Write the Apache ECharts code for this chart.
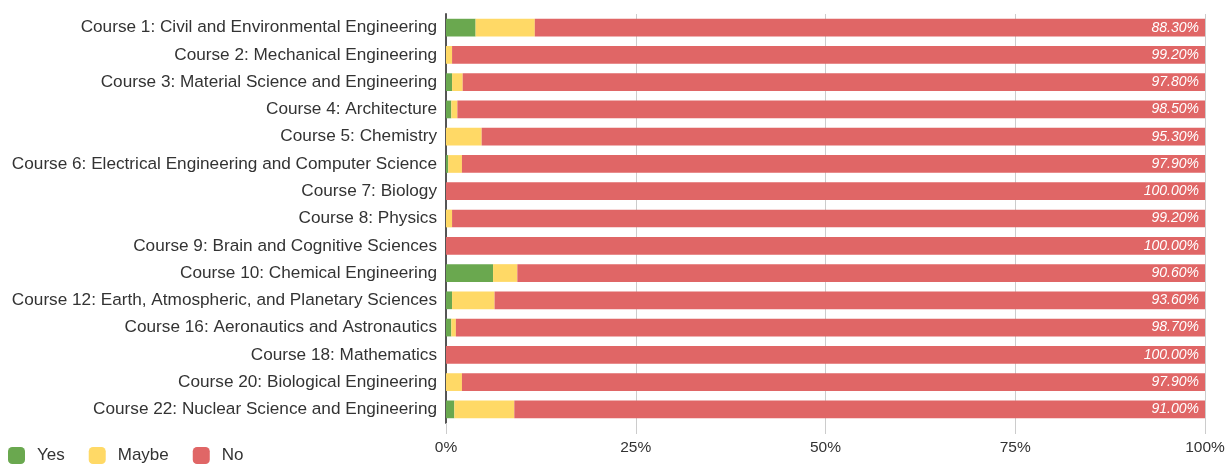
<!DOCTYPE html>
<html><head><meta charset="utf-8">
<script src="https://cdn.jsdelivr.net/npm/echarts@6/dist/echarts.min.js"></script>
<style>html,body{margin:0;padding:0;background:#fff}#c{width:1228px;height:465px}</style>
</head><body><div id="c"></div>
<script>
const categories = [
  "Course 1: Civil and Environmental Engineering",
  "Course 2: Mechanical Engineering",
  "Course 3: Material Science and Engineering",
  "Course 4: Architecture",
  "Course 5: Chemistry",
  "Course 6: Electrical Engineering and Computer Science",
  "Course 7: Biology",
  "Course 8: Physics",
  "Course 9: Brain and Cognitive Sciences",
  "Course 10: Chemical Engineering",
  "Course 12: Earth, Atmospheric, and Planetary Sciences",
  "Course 16: Aeronautics and Astronautics",
  "Course 18: Mathematics",
  "Course 20: Biological Engineering",
  "Course 22: Nuclear Science and Engineering"
];
const yesValues   = [3.9, 0, 0.8, 0.7, 0, 0.3, 0, 0, 0, 6.2, 0.8, 0.7, 0, 0, 1.1];
const maybeValues = [7.8, 0.8, 1.4, 0.8, 4.7, 1.8, 0, 0.8, 0, 3.2, 5.6, 0.6, 0, 2.1, 7.9];
const noValues    = [88.3, 99.2, 97.8, 98.5, 95.3, 97.9, 100, 99.2, 100, 90.6, 93.6, 98.7, 100, 97.9, 91.0];
const tickLabels  = ["0%", "25%", "50%", "75%", "100%"];

const chart = echarts.init(document.getElementById('c'), null, {renderer: 'canvas'});
const font = '"Liberation Sans", Arial, sans-serif';
function bar(name, data, color, label) {
  return {
    name, type: 'bar', stack: 'total', data, barWidth: '65%',
    itemStyle: {color, borderRadius: 0},
    label: label ? {
      show: true, position: 'insideRight', color: '#fff', fontStyle: 'italic',
      fontFamily: font, fontSize: 14, distance: 6,
      formatter: p => p.value.toFixed(2) + '%'
    } : {show: false},
    emphasis: {disabled: true}
  };
}
chart.setOption({
  animation: false,
  textStyle: {fontFamily: font},
  grid: {left: 446, right: 23, top: 14, bottom: 42, containLabel: false},
  legend: {
    left: 8, top: 447, padding: 0, itemWidth: 17, itemHeight: 17, itemGap: 24,
    icon: 'roundRect',
    textStyle: {fontSize: 17, color: '#333', fontFamily: font, padding: [0, 0, 0, 7]},
    data: ['Yes', 'Maybe', 'No']
  },
  xAxis: {
    type: 'value', min: 0, max: 100, interval: 25,
    axisLine: {show: false},
    axisTick: {show: true, length: 11, lineStyle: {color: '#ccc'}},
    splitLine: {show: true, lineStyle: {color: '#ccc'}},
    axisLabel: {fontSize: 15.5, color: '#333', margin: 17,
      formatter: v => tickLabels[Math.round(v / 25)]}
  },
  yAxis: {
    type: 'category', data: categories, inverse: true,
    axisLine: {show: true, lineStyle: {color: '#555', width: 2}},
    axisTick: {show: false},
    axisLabel: {fontSize: 17.2, color: '#333', margin: 9}
  },
  series: [
    bar('Yes', yesValues, '#6aa84f', false),
    bar('Maybe', maybeValues, '#ffd966', false),
    bar('No', noValues, '#e06666', true)
  ]
});
</script></body></html>
